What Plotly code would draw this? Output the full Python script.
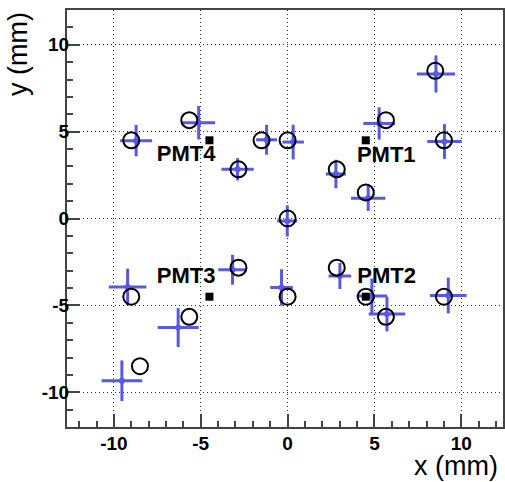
import plotly.graph_objects as go

# True source positions (open black circles)
true_x = [-9.0, -5.66, -1.5, 0.0, -2.83, 0.0, 5.66, 9.0, 2.83, 4.5, 8.5,
          -9.0, -5.66, -2.83, 0.0, -8.5, 2.83, 4.5, 5.66, 9.0]
true_y = [4.5, 5.66, 4.5, 4.5, 2.83, 0.0, 5.66, 4.5, 2.83, 1.5, 8.5,
          -4.5, -5.66, -2.83, -4.5, -8.5, -2.83, -4.5, -5.66, -4.5]

# Reconstructed positions (blue crosses) with errors
rec_x = [-8.72, -5.12, -1.21, 0.32, -2.88, -0.02, 5.27, 9.03, 2.78, 4.64, 8.54,
         -9.21, -6.30, -3.17, -0.35, -9.54, 3.01, 4.85, 5.72, 9.25]
rec_y = [4.48, 5.51, 4.53, 4.40, 2.83, -0.14, 5.47, 4.43, 2.56, 1.16, 8.32,
         -3.94, -6.28, -2.95, -3.97, -9.34, -3.31, -4.46, -5.50, -4.43]
rec_ex = [0.92, 0.94, 0.60, 0.62, 0.93, 0.58, 0.91, 0.99, 0.58, 0.99, 1.10,
          1.08, 1.18, 0.82, 0.65, 1.17, 0.65, 0.88, 1.05, 1.05]
rec_ey = [0.90, 0.96, 0.86, 1.00, 0.64, 0.90, 0.93, 1.00, 0.82, 0.72, 1.07,
          1.05, 1.12, 0.86, 1.05, 1.17, 0.75, 1.00, 1.00, 1.03]

# PMT positions and labels
pmt_x = [4.5, 4.5, -4.5, -4.5]
pmt_y = [4.5, -4.5, -4.5, 4.5]
pmt_names = ["PMT1", "PMT2", "PMT3", "PMT4"]
pmt_label_x = [5.68, 5.70, -5.84, -5.84]
pmt_label_y = [3.55, -3.41, -3.41, 3.60]

tick_vals = [-10, -5, 0, 5, 10]
tick_text = ["-10", "-5", "0", "5", "10"]

BLUE = "rgb(88,88,228)"
FRAME = "#444444"
FONT = "Liberation Sans, Arial, Helvetica, sans-serif"

fig = go.Figure()

fig.add_trace(go.Scatter(
    x=rec_x, y=rec_y, mode="markers",
    marker=dict(color=BLUE, size=6, symbol="circle"),
    error_x=dict(type="data", array=rec_ex, color=BLUE, thickness=3, width=0),
    error_y=dict(type="data", array=rec_ey, color=BLUE, thickness=3, width=0),
    showlegend=False, hoverinfo="skip"))

fig.add_trace(go.Scatter(
    x=true_x, y=true_y, mode="markers",
    marker=dict(symbol="circle-open", size=16, color="black",
                line=dict(color="black", width=2)),
    showlegend=False, hoverinfo="skip"))

fig.add_trace(go.Scatter(
    x=pmt_x, y=pmt_y, mode="markers",
    marker=dict(symbol="square", size=8, color="black"),
    showlegend=False, hoverinfo="skip"))

fig.add_trace(go.Scatter(
    x=pmt_label_x, y=pmt_label_y, mode="text", text=pmt_names,
    textfont=dict(family=FONT, size=22, color="black", weight="bold"),
    textposition="middle center",
    showlegend=False, hoverinfo="skip"))

axis_common = dict(
    tickmode="array", tickvals=tick_vals, ticktext=tick_text,
    ticks="inside", ticklen=13, tickwidth=1.5, tickcolor=FRAME,
    minor=dict(ticks="inside", ticklen=6, tickwidth=1.5, tickcolor=FRAME,
               dtick=1, tick0=0, showgrid=False),
    showgrid=True, gridcolor="#333333", griddash="1px,3px", gridwidth=1,
    zeroline=False, showline=True, linecolor=FRAME, linewidth=2, mirror=True,
    tickfont=dict(family=FONT, size=19, color="black", weight="bold"),
    automargin=False,
)

fig.update_xaxes(range=[-12.7, 12.4], ticklabelstandoff=-2, **axis_common)
fig.update_yaxes(range=[-12, 12], ticklabelstandoff=-8, **axis_common)

fig.add_annotation(text="x (mm)", xref="paper", yref="paper", x=1, y=0,
                   xanchor="right", yanchor="top", xshift=-4, yshift=-23,
                   showarrow=False, borderpad=0,
                   font=dict(family=FONT, size=27, color="black"))
fig.add_annotation(text="y (mm)", xref="paper", yref="paper", x=0, y=1,
                   xanchor="right", yanchor="top", xshift=-32, yshift=0,
                   textangle=-90, showarrow=False,
                   font=dict(family=FONT, size=27, color="black"))

fig.update_layout(
    width=505, height=482,
    margin=dict(l=67, r=2, t=10, b=55),
    paper_bgcolor="white", plot_bgcolor="white",
)

fig.write_html(
    "out.html",
    config={"displayModeBar": False},
    post_script="document.body.style.margin='0px';"
                "document.body.style.overflow='hidden';",
)
